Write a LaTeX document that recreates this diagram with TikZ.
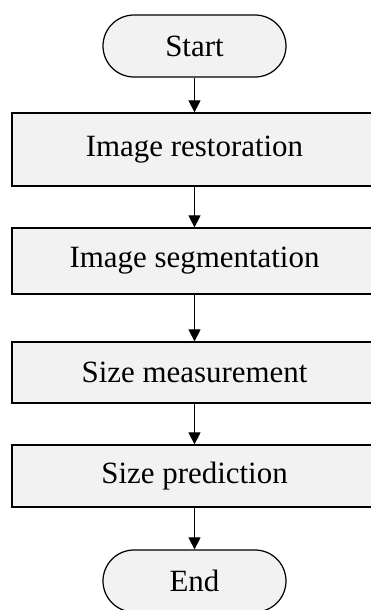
\documentclass[tikz,border=0pt]{standalone}
\usepackage{fontspec}
\setmainfont{Liberation Serif}
\usetikzlibrary{arrows.meta}
\begin{document}
\begin{tikzpicture}[->, >={Triangle[length=0.24cm,width=0.24cm]}, line width=0.7pt,
    font=\fontsize{17.6}{20}\selectfont]
    \tikzset{
      terminal/.style={draw, fill=gray!10, rounded corners=0.62cm, minimum width=3.66cm, minimum height=1.24cm},
      stepbox/.style={draw, fill=gray!10, minimum width=7.3cm}
    }
    \useasboundingbox (0,0) rectangle (7.42,12.2);

    % Terminals and process steps
    \node[terminal] (start) at (3.89,11.28) {Start};
    \node[stepbox, minimum height=1.46cm] (restore) at (3.89,9.21) {Image restoration};
    \node[stepbox, minimum height=1.32cm] (segment) at (3.89,6.98) {Image segmentation};
    \node[stepbox, minimum height=1.22cm] (measure) at (3.89,4.75) {Size measurement};
    \node[stepbox, minimum height=1.24cm] (predict) at (3.89,2.68) {Size prediction};
    \node[terminal] (end) at (3.89,0.58) {End};

    % Flow
    \draw (start) -- (restore);
    \draw (restore) -- (segment);
    \draw (segment) -- (measure);
    \draw (measure) -- (predict);
    \draw (predict) -- (end);
  \end{tikzpicture}
\end{document}
